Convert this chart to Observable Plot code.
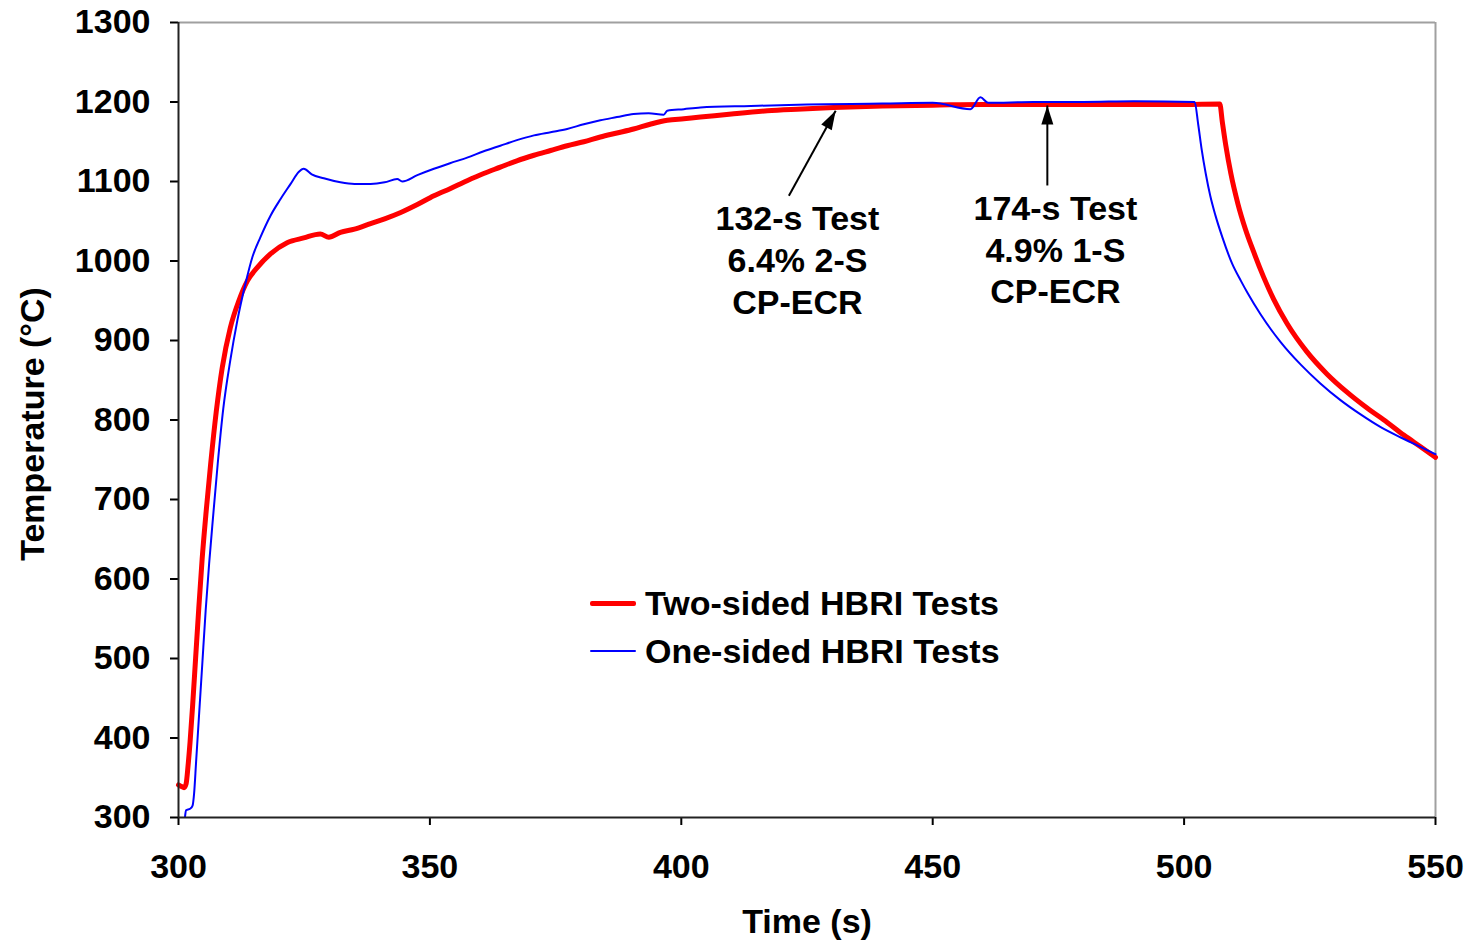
<!DOCTYPE html>
<html>
<head>
<meta charset="utf-8">
<script src="https://cdn.jsdelivr.net/npm/d3@7"></script>
<script src="https://cdn.jsdelivr.net/npm/@observablehq/plot@0.6"></script>
<style>
  html, body { margin: 0; padding: 0; background: #fff; }
  #wrap { position: relative; width: 1472px; height: 945px; font-family: 'Liberation Sans', Arial, sans-serif; font-weight: bold; }
  #legend { position: absolute; left: 590px; top: 579px; font-size: 34px; color: #000; }
  .row { display: flex; align-items: center; height: 48px; }
  .sw { width: 46px; margin-right: 9px; }
</style>
</head>
<body>
<div id="wrap"></div>
<script>
// Two-sided HBRI tests (red)
const tTwo = [300, 300.6, 301.1, 301.5, 301.9, 302.3, 302.8, 303.4, 304.0, 304.7, 305.5, 306.4, 307.5, 308.7, 310.3, 312.0, 313.7, 315.7, 318.3, 321.6, 324.9, 328.2, 329.9, 332.2, 335, 338.2, 341, 344.2, 347.5, 350.8, 354, 357.4, 360.7, 364, 367.3, 370.7, 374, 377.3, 380.6, 383.9, 387.2, 390.5, 393.8, 397.2, 400.5, 403.8, 410, 417.1, 423, 430.3, 440, 450, 460, 470, 480, 490, 500, 507.1, 507.6, 508.3, 509.3, 510.7, 512.2, 513.8, 515.8, 517.8, 520.5, 524.4, 528.4, 532.4, 536.4, 540.4, 543.7, 547.1, 550];
const TTwo = [341, 339, 337.5, 342, 365, 395, 440, 500, 560, 625, 685, 745, 810, 866, 916, 950, 975, 992, 1009, 1023, 1029, 1034, 1030, 1036, 1040, 1047, 1053, 1061, 1071, 1082, 1091, 1101, 1110, 1118, 1126, 1133, 1139, 1145, 1150, 1156, 1161, 1166, 1172, 1177, 1179, 1181, 1185, 1189, 1191, 1193, 1195, 1196, 1197, 1197, 1197, 1197, 1197, 1197.5, 1175, 1145, 1110, 1072, 1040, 1012, 980, 952, 921, 886, 858, 835, 815, 797, 781, 766, 753];

// One-sided HBRI tests (blue)
const tOne = [301.3, 301.5, 302.3, 302.8, 303.1, 303.5, 304.1, 304.7, 305.4, 306.1, 306.9, 307.8, 308.9, 310.3, 311.7, 313.3, 314.7, 316.3, 318.3, 320.3, 322.3, 323.9, 324.9, 326.5, 328.9, 332.2, 335, 338.2, 341, 343.5, 344.5, 347.5, 350.8, 354, 357.4, 360.7, 364, 367.3, 370.7, 374, 377.3, 380.6, 383.9, 387.2, 390.5, 393.5, 396.5, 397.2, 400.5, 403.8, 413.8, 425, 440, 450, 457.5, 459.5, 461, 470, 480, 490, 502.1, 502.8, 503.5, 504.3, 505.2, 506.2, 507.6, 509.6, 511.3, 512.6, 515.2, 519.2, 523.3, 527.1, 531.1, 535.1, 539.1, 543.1, 547.1, 550];
const TOne = [301, 309, 311, 315, 330, 370, 430, 490, 560, 620, 680, 745, 814, 875, 925, 971, 1005, 1030, 1057, 1078, 1097, 1112, 1116, 1109, 1104, 1099, 1097, 1097, 1099, 1103, 1100, 1108, 1116, 1123, 1130, 1138, 1145, 1152, 1158, 1162, 1166, 1172, 1177, 1181, 1185, 1186, 1184, 1189, 1191, 1193, 1195, 1197, 1198, 1199, 1191, 1206, 1199, 1200, 1200, 1201, 1200, 1172, 1140, 1110, 1082, 1058, 1030, 996, 975, 960, 933, 898, 869, 846, 825, 807, 791, 778, 766, 757];

const xTicks = [300, 350, 400, 450, 500, 550];
const yTicks = [300, 400, 500, 600, 700, 800, 900, 1000, 1100, 1200, 1300];

const noteText = ["132-s Test\n6.4% 2-S\nCP-ECR", "174-s Test\n4.9% 1-S\nCP-ECR"];
const noteX = [423.1, 474.4];
const noteY = [1003, 1016];

const arrowX1 = [421.4, 472.8];
const arrowY1 = [1082, 1095];
const arrowX2 = [430.7, 472.8];
const arrowY2 = [1189, 1195.6];

const seriesNames = ["Two-sided HBRI Tests", "One-sided HBRI Tests"];
const seriesColors = ["#ff0000", "#0000ff"];
const seriesWidths = [5, 2];

const twoRows = tTwo.map((t, i) => ({t, T: TTwo[i]}));
const oneRows = tOne.map((t, i) => ({t, T: TOne[i]}));
const notes = noteText.map((text, i) => ({text, x: noteX[i], y: noteY[i]}));
const arrows = arrowX1.map((x1, i) => ({x1, y1: arrowY1[i], x2: arrowX2[i], y2: arrowY2[i]}));

const W = 1472, H = 945, mL = 178, mR = 37, mT = 22, mB = 128;
const fw = W - mL - mR, fh = H - mT - mB;
const angle = d => {
  const dx = (d.x2 - d.x1) * fw / (xTicks[xTicks.length - 1] - xTicks[0]);
  const dy = (d.y2 - d.y1) * fh / (yTicks[yTicks.length - 1] - yTicks[0]);
  return Math.atan2(dx, dy) * 180 / Math.PI;
};
const head = { draw(ctx) { ctx.moveTo(0, 0); ctx.lineTo(-6, 19); ctx.lineTo(6, 19); ctx.closePath(); } };

const font = "'Liberation Sans', Arial, sans-serif";

const chart = Plot.plot({
  width: W, height: H,
  marginLeft: mL, marginRight: mR, marginTop: mT, marginBottom: mB,
  x: {domain: [300, 550]},
  y: {domain: [300, 1300]},
  style: {fontFamily: font, fontWeight: "bold", fontSize: "34px", color: "#000", background: "#fff"},
  marks: [
    Plot.ruleY([1300], {stroke: "#a0a0a0", strokeWidth: 2}),
    Plot.ruleX([550], {stroke: "#a0a0a0", strokeWidth: 2}),
    Plot.line(twoRows, {x: "t", y: "T", stroke: seriesColors[0], strokeWidth: seriesWidths[0], curve: "monotone-x"}),
    Plot.line(oneRows, {x: "t", y: "T", stroke: seriesColors[1], strokeWidth: seriesWidths[1], curve: "monotone-x"}),
    Plot.link(arrows, {x1: "x1", y1: "y1", x2: "x2", y2: "y2", stroke: "#000", strokeWidth: 2}),
    Plot.dot(arrows, {x: "x2", y: "y2", symbol: head, fill: "#000", stroke: "none", rotate: angle}),
    Plot.text(notes, {x: "x", y: "y", text: "text", lineHeight: 1.23, fontSize: 34, fontWeight: "bold", fill: "#000"}),
    Plot.axisX({ticks: xTicks, tickFormat: d3.format("d"), tickSize: 8, tickPadding: 28, label: null, fontSize: 34, fontWeight: "bold", strokeWidth: 2}),
    Plot.axisY({ticks: yTicks, tickFormat: d3.format("d"), tickSize: 8, tickPadding: 20, label: null, fontSize: 34, fontWeight: "bold", strokeWidth: 2}),
    Plot.ruleX([300], {stroke: "#222", strokeWidth: 2}),
    Plot.ruleY([300], {stroke: "#222", strokeWidth: 2}),
    Plot.text(["Time (s)"], {frameAnchor: "bottom", lineAnchor: "middle", dy: 105, fontSize: 34, fontWeight: "bold", fill: "#000"}),
    Plot.text(["Temperature (°C)"], {frameAnchor: "left", textAnchor: "middle", lineAnchor: "middle", dx: -145, dy: 4, rotate: -90, fontSize: 34, fontWeight: "bold", fill: "#000"})
  ]
});

const wrap = document.getElementById("wrap");
wrap.appendChild(chart);

const legend = document.createElement("div");
legend.id = "legend";
seriesNames.forEach((name, i) => {
  const row = document.createElement("div");
  row.className = "row";
  const sw = document.createElement("div");
  sw.className = "sw";
  sw.style.height = seriesWidths[i] + "px";
  sw.style.background = seriesColors[i];
  sw.style.borderRadius = "2px";
  const label = document.createElement("span");
  label.textContent = name;
  row.appendChild(sw);
  row.appendChild(label);
  legend.appendChild(row);
});
wrap.appendChild(legend);
</script>
</body>
</html>
